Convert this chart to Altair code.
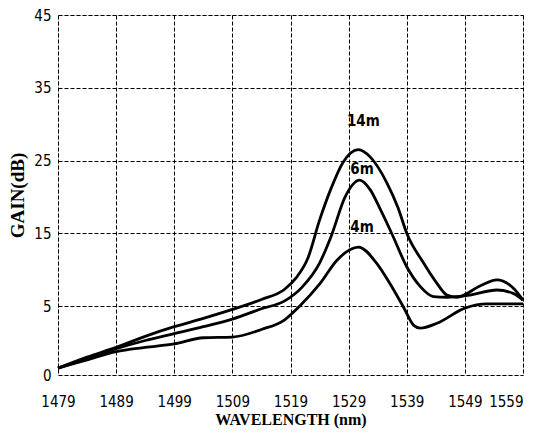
import altair as alt
import pandas as pd

# Wavelength (nm) / gain (dB) readings for each fibre length
wl_14 = [1479, 1484, 1489, 1494, 1499, 1504, 1509, 1514, 1518, 1520, 1522, 1524, 1526, 1528,
         1530.7, 1532.7, 1535.6, 1537.5, 1539, 1541.9, 1544.2, 1545.9, 1547.6, 1551.6, 1554.5,
         1557.4, 1559]
g_14 = [0.5, 1.3, 2.0, 2.8, 3.5, 4.1, 4.75, 5.9, 7.3, 8.9, 11.6, 16.8, 21.2, 24.7,
        26.5, 25.5, 21.9, 18.5, 15.0, 10.9, 8.1, 6.5, 6.2, 7.75, 8.6,
        7.4, 5.8]

wl_6 = [1479, 1484, 1489, 1494, 1499, 1504, 1509, 1514, 1518, 1521, 1524, 1526, 1528.4,
        1530.9, 1532.7, 1534.5, 1536.4, 1539, 1541.3, 1543.6, 1545.9, 1549.9, 1554.5,
        1557.4, 1559]
g_6 = [0.5, 1.2, 1.9, 2.5, 3.0, 3.5, 4.05, 4.8, 5.7, 7.6, 10.9, 14.6, 20.0,
       22.3, 21.0, 18.2, 15.0, 10.4, 7.7, 6.3, 6.2, 6.5, 7.2,
       6.7, 5.8]

wl_4 = [1479, 1484, 1489, 1494, 1499, 1504, 1509, 1514, 1518, 1520.6, 1524.1, 1527,
        1530.7, 1533.8, 1536.1, 1538.4, 1540.2, 1541.3, 1544.2, 1549, 1552.8, 1559]
g_4 = [0.5, 1.1, 1.7, 2.0, 2.25, 2.7, 2.75, 3.3, 4.0, 5.0, 8.1, 11.3,
       13.1, 10.9, 8.1, 4.95, 3.6, 3.4, 3.75, 4.85, 5.3, 5.3]

label_text = ["14m", "6m", "4m"]
label_wl = [1528.7, 1529.3, 1529.3]
label_gain = [30.4, 23.8, 15.9]

x_ticks = [1479, 1489, 1499, 1509, 1519, 1529, 1539, 1549, 1559]
y_ticks = [0, 5, 15, 25, 35, 45]

rows = []
for name, wl, g in [("14m", wl_14, g_14), ("6m", wl_6, g_6), ("4m", wl_4, g_4)]:
    for a, b in zip(wl, g):
        rows.append({"series": name, "wl": a, "gain": b})
df = pd.DataFrame(rows)
labels = pd.DataFrame({"text": label_text, "wl": label_wl, "gain": label_gain})

W, H = 465, 360
xscale = alt.Scale(domain=[1479, 1559], nice=False, zero=False)
yscale = alt.Scale(domain=[0, 5, 45], range=[H, 291, 0], nice=False, zero=False)

tick_font = "'DejaVu Sans Condensed', 'Liberation Sans Narrow', 'Liberation Sans', sans-serif"
title_font = "'Liberation Serif', 'Times New Roman', serif"

xaxis = alt.Axis(values=x_ticks, format="d", title="WAVELENGTH (nm)", grid=True, gridColor="black",
                 gridDash=[4, 2], gridWidth=1, gridOpacity=1, ticks=False, domain=False,
                 labelFont=tick_font, labelFontSize=15, labelColor="black", labelPadding=19,
                 labelAlign={"condition": {"test": "datum.value == 1559", "value": "right"},
                             "value": "center"},
                 titleFont=title_font, titleFontSize=16, titleFontWeight="bold",
                 titleColor="black", titlePadding=2, labelFlush=False)
yaxis = alt.Axis(values=y_ticks, format="d", title="GAIN(dB)", grid=True, gridColor="black",
                 gridDash=[4, 2], gridWidth=1, gridOpacity=1, ticks=False, domain=False,
                 labelFont=tick_font, labelFontSize=15, labelColor="black", labelPadding=7,
                 titleFont=title_font, titleFontSize=19, titleFontWeight="bold",
                 titleColor="black", titlePadding=6, labelFlush=False)

lines = alt.Chart(df).mark_line(color="black", strokeWidth=2.8, interpolate="monotone").encode(
    x=alt.X("wl:Q", scale=xscale, axis=xaxis),
    y=alt.Y("gain:Q", scale=yscale, axis=yaxis),
    detail="series:N",
)

texts = alt.Chart(labels).mark_text(align="left", baseline="middle", font=tick_font,
                                     fontSize=15, fontWeight="bold", color="black").encode(
    x=alt.X("wl:Q", scale=xscale),
    y=alt.Y("gain:Q", scale=yscale),
    text="text:N",
)

chart = alt.layer(lines, texts).properties(
    width=W, height=H,
    autosize=alt.AutoSizeParams(type="none"),
    padding={"left": 50, "top": 7, "right": 3, "bottom": 56},
).configure_view(stroke="black", strokeWidth=3).configure(background="white")

chart.save("out.html", embed_options={"renderer": "svg", "actions": False})
